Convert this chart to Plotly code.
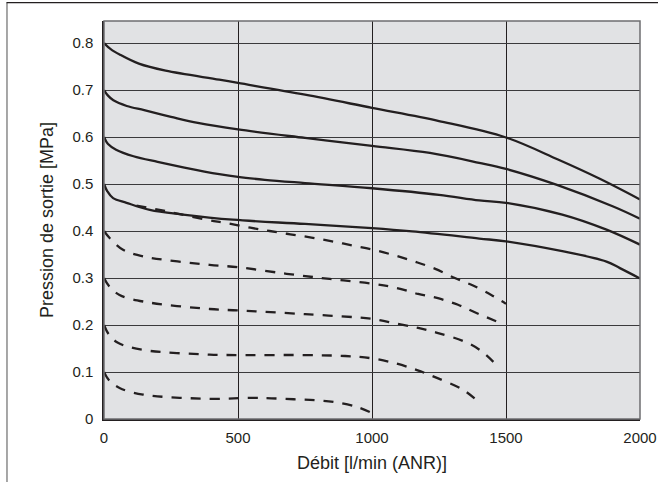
import plotly.graph_objects as go

# ---- data ----
x_ticks = [0, 500, 1000, 1500, 2000]
y_ticks = [0, 0.1, 0.2, 0.3, 0.4, 0.5, 0.6, 0.7, 0.8]
y_tick_labels = ["0", "0.1", "0.2", "0.3", "0.4", "0.5", "0.6", "0.7", "0.8"]

s08_x = [0, 25, 60, 130, 230, 430, 500, 750, 1000, 1250, 1500, 1694, 1850, 2000]
s08_y = [0.800, 0.787, 0.775, 0.756, 0.741, 0.722, 0.715, 0.690, 0.662, 0.634, 0.599, 0.552, 0.511, 0.467]

s07_x = [0, 15, 35, 85, 150, 250, 350, 500, 750, 1000, 1216, 1400, 1500, 1690, 1900, 2000]
s07_y = [0.700, 0.688, 0.678, 0.666, 0.657, 0.643, 0.630, 0.616, 0.598, 0.581, 0.566, 0.545, 0.532, 0.498, 0.452, 0.426]

s06_x = [0, 15, 45, 110, 200, 300, 430, 500, 600, 750, 1000, 1250, 1400, 1500, 1710, 1875, 2000]
s06_y = [0.600, 0.585, 0.573, 0.559, 0.547, 0.535, 0.521, 0.515, 0.509, 0.502, 0.491, 0.477, 0.465, 0.460, 0.435, 0.403, 0.371]

s05_x = [0, 12, 34, 84, 171, 295, 481, 750, 1000, 1150, 1400, 1500, 1710, 1875, 1925, 2000]
s05_y = [0.500, 0.485, 0.470, 0.460, 0.445, 0.435, 0.424, 0.415, 0.406, 0.399, 0.384, 0.378, 0.357, 0.335, 0.321, 0.299]

d05_x = [121, 233, 382, 457, 546, 618, 695, 774, 851, 929, 1006, 1085, 1159, 1234, 1309, 1377, 1448, 1500]
d05_y = [0.454, 0.442, 0.424, 0.417, 0.407, 0.400, 0.393, 0.386, 0.378, 0.369, 0.360, 0.348, 0.335, 0.320, 0.300, 0.284, 0.263, 0.245]

d04_x = [0, 21, 71, 146, 394, 500, 681, 842, 1000, 1091, 1172, 1246, 1321, 1396, 1485]
d04_y = [0.400, 0.385, 0.360, 0.346, 0.328, 0.323, 0.309, 0.298, 0.288, 0.279, 0.266, 0.257, 0.243, 0.224, 0.203]

d03_x = [0, 20, 58, 146, 394, 500, 750, 1000, 1091, 1172, 1240, 1340, 1402, 1470]
d03_y = [0.300, 0.282, 0.264, 0.250, 0.234, 0.231, 0.223, 0.213, 0.203, 0.194, 0.184, 0.166, 0.147, 0.112]

d02_x = [0, 18, 52, 146, 394, 500, 750, 900, 1000, 1091, 1168, 1240, 1340, 1396]
d02_y = [0.200, 0.180, 0.162, 0.147, 0.137, 0.136, 0.136, 0.134, 0.129, 0.118, 0.104, 0.088, 0.062, 0.037]

d01_x = [0, 18, 58, 146, 394, 550, 624, 708, 786, 861, 944, 1000]
d01_y = [0.100, 0.083, 0.066, 0.052, 0.043, 0.045, 0.044, 0.042, 0.040, 0.036, 0.0255, 0.0128]

solid_series = [(s08_x, s08_y), (s07_x, s07_y), (s06_x, s06_y), (s05_x, s05_y)]
dashed_series = [(d05_x, d05_y), (d04_x, d04_y), (d03_x, d03_y), (d02_x, d02_y), (d01_x, d01_y)]

FONT = "Liberation Sans, Arial, sans-serif"
TXT = "#231f20"

fig = go.Figure()
for xs, ys in solid_series:
    fig.add_trace(go.Scatter(x=xs, y=ys, mode="lines",
                             line=dict(color="#231f20", width=2.3, shape="spline", smoothing=1.0),
                             showlegend=False, hoverinfo="skip"))
for xs, ys in dashed_series:
    fig.add_trace(go.Scatter(x=xs, y=ys, mode="lines",
                             line=dict(color="#231f20", width=2.3, dash="10px,9px",
                                       shape="spline", smoothing=1.0),
                             showlegend=False, hoverinfo="skip"))

fig.update_layout(
    width=658, height=482,
    margin=dict(l=104, r=18, t=21, b=63, autoexpand=False),
    paper_bgcolor="white",
    plot_bgcolor="#e1e2e4",
    font=dict(family=FONT, size=15, color=TXT),
    showlegend=False,
    shapes=[
        # grey frame around plot area (top/right edges)
        dict(type="rect", xref="paper", yref="paper", x0=0, x1=1, y0=0, y1=1,
             line=dict(color="#6d6e70", width=1.5), layer="above"),
        # outer figure frame (left and top edges visible)
        dict(type="line", xref="paper", yref="paper", x0=-0.181, x1=-0.181, y0=1.046, y1=-0.2,
             line=dict(color="#8a8a8a", width=1.5)),
        dict(type="line", xref="paper", yref="paper", x0=-0.182, x1=1.05, y0=1.046, y1=1.046,
             line=dict(color="#231f20", width=1.3)),
    ],
)

fig.update_xaxes(
    range=[0, 2000], tickvals=x_ticks, ticktext=[str(v) for v in x_ticks],
    showgrid=True, gridcolor="#231f20", gridwidth=1.2,
    showline=True, linecolor="#231f20", linewidth=1.5,
    zeroline=False, ticks="", ticklabelstandoff=4, automargin=False,
    tickfont=dict(size=15, color=TXT),
    title=dict(text="Débit [l/min (ANR)]", font=dict(size=18, color=TXT), standoff=12),
    layer="below traces",
)
fig.update_yaxes(
    range=[0, 0.8468], tickvals=y_ticks, ticktext=y_tick_labels,
    showgrid=True, gridcolor="#3a3a3c", gridwidth=1.2,
    showline=True, linecolor="#231f20", linewidth=1.5,
    zeroline=False, ticks="", ticklabelstandoff=6, automargin=False,
    tickfont=dict(size=15, color=TXT),
    title=dict(text="Pression de sortie [MPa]", font=dict(size=18, color=TXT), standoff=14),
    layer="below traces",
)

fig.write_html("out.html",
               config={"displayModeBar": False},
               post_script="document.body.style.margin='0';document.body.style.overflow='hidden';")
